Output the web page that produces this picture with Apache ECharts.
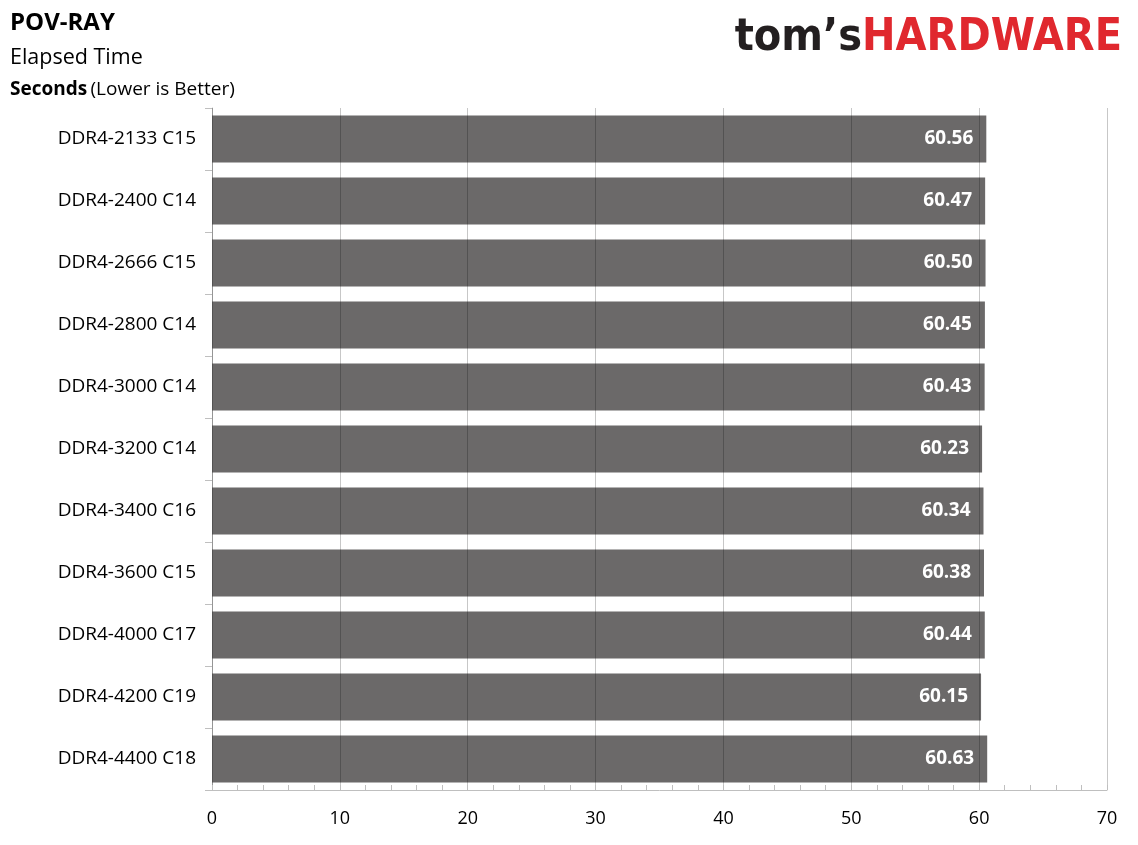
<!DOCTYPE html>
<html>
<head>
<meta charset="utf-8">
<script src="https://cdn.jsdelivr.net/npm/echarts@6/dist/echarts.min.js"></script>
<style>
html,body{margin:0;padding:0;background:#fff;}
#chart{width:1138px;height:845px;}
</style>
</head>
<body>
<div id="chart"></div>
<script>
var categories = ['DDR4-2133 C15','DDR4-2400 C14','DDR4-2666 C15','DDR4-2800 C14','DDR4-3000 C14','DDR4-3200 C14','DDR4-3400 C16','DDR4-3600 C15','DDR4-4000 C17','DDR4-4200 C19','DDR4-4400 C18'];
var values = [60.56,60.47,60.50,60.45,60.43,60.23,60.34,60.38,60.44,60.15,60.63];
var xTicks = [0,10,20,30,40,50,60,70];

var FONT = '"Open Sans", "Noto Sans", sans-serif';
var LOGO = '"DejaVu Sans Condensed", "DejaVu Sans", sans-serif';
var chart = echarts.init(document.getElementById('chart'));
chart.setOption({
  animation: false,
  backgroundColor: '#ffffff',
  grid: {left: 212, right: 31, top: 108, bottom: 55, containLabel: false},
  graphic: [
    {type: 'text', left: 10, top: 11, style: {text: 'POV-RAY', font: 'bold 24px ' + FONT, fill: '#000'}},
    {type: 'text', left: 10, top: 47, style: {text: 'Elapsed Time', font: '21.5px ' + FONT, fill: '#000'}},
    {type: 'text', left: 10, top: 80, style: {
      text: '{b|Seconds} {n|(Lower is Better)}',
      rich: {b: {font: 'bold 19px ' + FONT, fill: '#000'}, n: {font: '19px ' + FONT, fill: '#000'}}
    }},
    {type: 'text', right: 16, top: 16, style: {
      text: '{t|tom\u2019s}{h|HARDWARE}',
      rich: {
        t: {font: 'bold 44.5px ' + LOGO, fill: '#231f20'},
        h: {font: 'bold 44.5px ' + LOGO, fill: '#e0282e'}
      }
    }}
  ],
  xAxis: {
    type: 'value', min: 0, max: 70, interval: 10, z: 5,
    axisLine: {show: true, lineStyle: {color: '#bfbfbf', width: 1}},
    axisTick: {show: true, inside: true, length: 5, lineStyle: {color: '#bfbfbf'}},
    minorTick: {show: true, splitNumber: 5, length: 5, lineStyle: {color: '#bfbfbf'}},
    splitLine: {show: true, lineStyle: {color: 'rgba(0,0,0,0.22)', width: 1}},
    axisLabel: {
      margin: 20, fontSize: 18, fontFamily: FONT, color: '#000',
      formatter: function (v) { return xTicks.indexOf(v) >= 0 ? String(v) : ''; }
    }
  },
  yAxis: {
    type: 'category', data: categories, inverse: true,
    axisLine: {show: true, lineStyle: {color: '#bfbfbf', width: 1}},
    axisTick: {show: true, length: 7, lineStyle: {color: '#bfbfbf'}},
    axisLabel: {margin: 16, fontSize: 19, fontFamily: FONT, color: '#000'}
  },
  series: [{
    type: 'bar', data: values, barCategoryGap: '24%', z: 2,
    itemStyle: {color: '#6b6969'},
    label: {
      show: true, position: 'insideRight', distance: 13,
      color: '#fff', fontWeight: 'bold', fontSize: 19, fontFamily: FONT,
      formatter: function (p) { return p.value.toFixed(2); }
    }
  }]
});
</script>
</body>
</html>
